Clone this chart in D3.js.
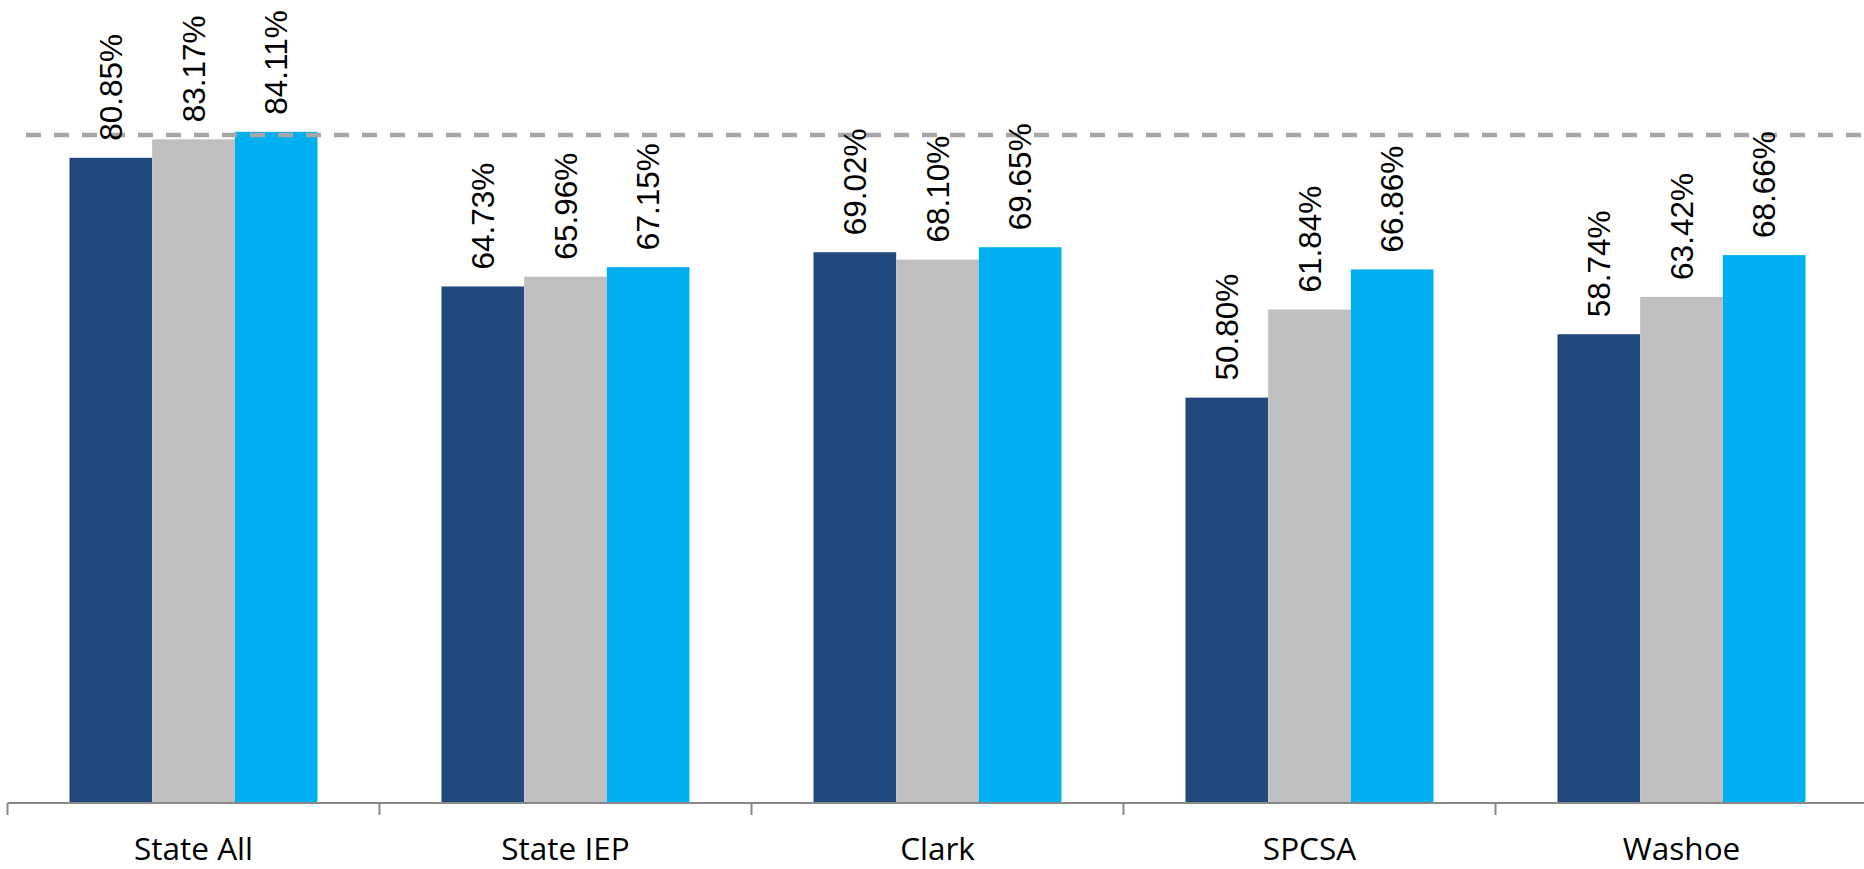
<!DOCTYPE html>
<html>
<head>
<meta charset="utf-8">
<script src="https://cdn.jsdelivr.net/npm/d3@7"></script>
<style>
  html, body { margin: 0; padding: 0; background: #fff; }
  svg { display: block; }
</style>
</head>
<body>
<svg id="chart" width="1864" height="869"></svg>
<script>
const categories = ["State All", "State IEP", "Clark", "SPCSA", "Washoe"];
const seriesNames = ["Series 1", "Series 2", "Series 3"];
const series1 = [80.85, 64.73, 69.02, 50.80, 58.74];
const series2 = [83.17, 65.96, 68.10, 61.84, 63.42];
const series3 = [84.11, 67.15, 69.65, 66.86, 68.66];
const targetValue = 83.7;

const seriesValues = [series1, series2, series3];
const colors = ["#1F497D", "#BFBFBF", "#00B0F0"];

const svg = d3.select("#chart");
const axisY = 803;

const x0 = d3.scaleBand().domain(categories).range([7.5, 1867.5]).paddingInner(0).paddingOuter(0);
const bw = x0.bandwidth();
const x1 = d3.scaleBand().domain(seriesNames).range([bw / 6, bw * 5 / 6]).padding(0);
const y = d3.scaleLinear().domain([0, 100]).range([axisY, 5]);

const data = [];
categories.forEach((c, ci) => {
  seriesNames.forEach((s, si) => {
    data.push({ cat: c, ser: s, si: si, value: seriesValues[si][ci] });
  });
});

// bars
svg.append("g").selectAll("rect").data(data).join("rect")
  .attr("x", d => x0(d.cat) + x1(d.ser))
  .attr("y", d => y(d.value))
  .attr("width", x1.bandwidth())
  .attr("height", d => axisY - y(d.value))
  .attr("fill", d => colors[d.si]);

// target dashed line
svg.append("line")
  .attr("x1", 26).attr("x2", 1864)
  .attr("y1", y(targetValue)).attr("y2", y(targetValue))
  .attr("stroke", "#A6A6A6")
  .attr("stroke-width", 4.5)
  .attr("stroke-dasharray", "15 13");

// data labels
svg.append("g").selectAll("text").data(data).join("text")
  .attr("transform", d => {
    const cx = x0(d.cat) + x1(d.ser) + x1.bandwidth() / 2;
    const ty = y(d.value) - 17;
    return `translate(${cx},${ty}) rotate(-90)`;
  })
  .attr("text-anchor", "start")
  .attr("dominant-baseline", "central")
  .attr("font-family", "'Liberation Sans', Arial, sans-serif")
  .attr("font-size", 31.5)
  .attr("fill", "#000")
  .text(d => d.value.toFixed(2) + "%");

// x axis
const xAxis = d3.axisBottom(x0).tickSize(0).tickPadding(0);
const gAxis = svg.append("g").attr("transform", `translate(0,${axisY})`).call(xAxis);
gAxis.select(".domain").remove();
gAxis.selectAll("text").remove();

gAxis.append("line")
  .attr("x1", x0.range()[0]).attr("x2", 1864)
  .attr("y1", 0).attr("y2", 0)
  .attr("stroke", "#898989").attr("stroke-width", 2);

// category boundary ticks
const boundaries = categories.map(c => x0(c));
gAxis.selectAll(".bt").data(boundaries).join("line")
  .attr("class", "bt")
  .attr("x1", d => d).attr("x2", d => d)
  .attr("y1", 0).attr("y2", 12)
  .attr("stroke", "#898989").attr("stroke-width", 2);

gAxis.selectAll(".cl").data(categories).join("text")
  .attr("class", "cl")
  .attr("x", d => x0(d) + bw / 2)
  .attr("y", 57)
  .attr("text-anchor", "middle")
  .attr("font-family", "'Open Sans', Lato, sans-serif")
  .attr("font-size", 31.5)
  .attr("fill", "#000")
  .text(d => d);
</script>
</body>
</html>
